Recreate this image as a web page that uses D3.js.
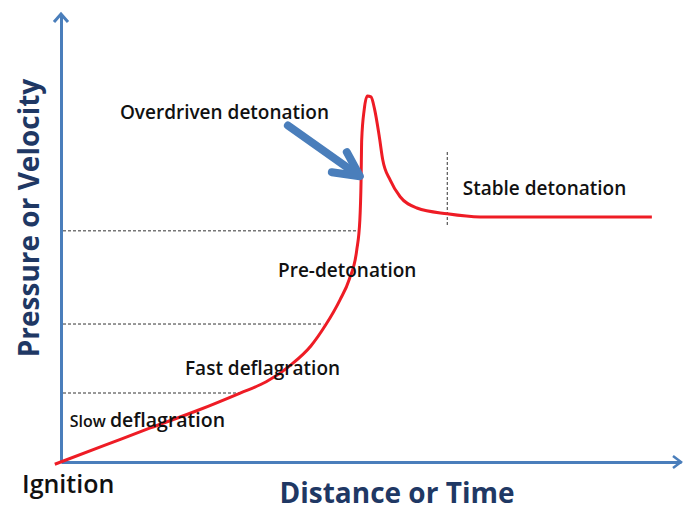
<!DOCTYPE html>
<html>
<head>
<meta charset="utf-8">
<script src="https://cdn.jsdelivr.net/npm/d3@7"></script>
<style>
  body { margin: 0; background: #fff; }
  text { font-family: "Open Sans", "Noto Sans", sans-serif; }
</style>
</head>
<body>
<div id="chart"></div>
<script>
// curve of the wave front, in arbitrary units (0-100 on both axes)
var distance = [-1, 7, 14.4, 22, 28.9, 33.1, 37.1, 40.3, 42.6, 45.0, 46.5, 47.7, 48.2, 48.4, 48.5, 48.9, 49.4, 50.0, 50.6, 51.3, 51.9, 53.1, 54.7, 57.4, 62.3, 67.6, 74.0, 95.3];
var pressure = [-0.5, 3.7, 7.6, 11.5, 15.4, 17.9, 21.7, 25.9, 30.4, 36.2, 40.8, 47.3, 54.0, 62.9, 71.9, 78.6, 81.7, 81.5, 78.6, 73.0, 67.4, 62.9, 59.2, 56.7, 55.4, 54.7, 54.7, 54.7];

// horizontal dashed level lines: level and where they meet the curve
var levelY = [51.6, 30.8, 15.4];
var levelEndX = [48.2, 42.3, 28.9];

// vertical dashed marker for stable detonation
var stableX = 62.3;
var stableY = [52.9, 69.4];

var regimeNames = ["Overdriven detonation", "Stable detonation", "Pre-detonation", "Fast deflagration"];
var regimeX = [9.5, 64.8, 35.0, 20.0];
var regimeY = [76.5, 59.6, 41.2, 19.4];

var width = 683;
var height = 506;
var margin = { top: 14, right: 2, bottom: 44, left: 61 };

var svg = d3.select("#chart")
  .append("svg")
  .attr("width", width)
  .attr("height", height);

var x = d3.scaleLinear()
  .domain([0, 100])
  .range([margin.left, width - margin.right]);

var y = d3.scaleLinear()
  .domain([0, 100])
  .range([height - margin.bottom, margin.top]);

var axisColor = "#4a7ebb";

// axes without ticks, just the lines
svg.append("g")
  .attr("transform", `translate(0, ${y(0)})`)
  .call(d3.axisBottom(x).tickValues([]).tickSizeOuter(0));
svg.append("g")
  .attr("transform", `translate(${x(0)}, 0)`)
  .call(d3.axisLeft(y).tickValues([]).tickSizeOuter(0));
svg.selectAll(".domain")
  .attr("stroke", axisColor)
  .attr("stroke-width", 3);

// arrow heads on the axes
svg.append("path")
  .attr("d", `M${x(0) - 7},${y(100) + 8} L${x(0)},${y(100)} L${x(0) + 7},${y(100) + 8}`)
  .attr("fill", "none")
  .attr("stroke", axisColor)
  .attr("stroke-width", 3);
svg.append("path")
  .attr("d", `M${x(100) - 8},${y(0) - 6} L${x(100)},${y(0)} L${x(100) - 8},${y(0) + 6}`)
  .attr("fill", "none")
  .attr("stroke", axisColor)
  .attr("stroke-width", 2.5);

// dashed level lines
svg.selectAll(".level")
  .data(levelY)
  .enter()
  .append("line")
  .attr("x1", x(0) + 2)
  .attr("x2", (d, i) => x(levelEndX[i]))
  .attr("y1", (d) => y(d))
  .attr("y2", (d) => y(d))
  .attr("stroke", "#333")
  .attr("stroke-width", 1)
  .attr("stroke-dasharray", "3,2");

svg.append("line")
  .attr("x1", x(stableX))
  .attr("x2", x(stableX))
  .attr("y1", y(stableY[0]))
  .attr("y2", y(stableY[1]))
  .attr("stroke", "#333")
  .attr("stroke-width", 1)
  .attr("stroke-dasharray", "3,2");

// the curve
var pts = distance.map((d, i) => [d, pressure[i]]);
var line = d3.line()
  .x((d) => x(d[0]))
  .y((d) => y(d[1]))
  .curve(d3.curveMonotoneX);

svg.append("path")
  .datum(pts)
  .attr("d", line)
  .attr("fill", "none")
  .attr("stroke", "#ee1c25")
  .attr("stroke-width", 3)
  .attr("stroke-linejoin", "round");

// regime labels
svg.selectAll(".regime")
  .data(regimeNames)
  .enter()
  .append("text")
  .attr("x", (d, i) => x(regimeX[i]))
  .attr("y", (d, i) => y(regimeY[i]))
  .attr("font-size", 19)
  .attr("font-weight", 600)
  .attr("fill", "#111")
  .text((d) => d);

var slow = svg.append("text")
  .attr("x", x(1.4))
  .attr("y", y(7.9))
  .attr("fill", "#111")
  .attr("font-weight", 600);
slow.append("tspan").attr("font-size", 16).text("Slow ");
slow.append("tspan").attr("font-size", 19.5).text("deflagration");

// blue pointer arrow to the overdriven peak
var arrowFrom = [36.6, 75.1];
var arrowTo = [48.2, 63.8];
svg.append("line")
  .attr("x1", x(arrowFrom[0]))
  .attr("y1", y(arrowFrom[1]))
  .attr("x2", x(arrowTo[0]) - 3)
  .attr("y2", y(arrowTo[1]) - 2)
  .attr("stroke", axisColor)
  .attr("stroke-width", 8)
  .attr("stroke-linecap", "round");
svg.append("path")
  .attr("d", `M${x(arrowTo[0]) - 13},${y(arrowTo[1]) - 24} L${x(arrowTo[0])},${y(arrowTo[1])} L${x(arrowTo[0]) - 28},${y(arrowTo[1]) - 4}`)
  .attr("fill", "none")
  .attr("stroke", axisColor)
  .attr("stroke-width", 8)
  .attr("stroke-linecap", "round")
  .attr("stroke-linejoin", "round");

// axis titles
svg.append("text")
  .attr("x", 22)
  .attr("y", 493)
  .attr("font-size", 25)
  .attr("font-weight", 600)
  .attr("fill", "#111")
  .text("Ignition");

svg.append("text")
  .attr("x", 397)
  .attr("y", 503)
  .attr("text-anchor", "middle")
  .attr("font-size", 28)
  .attr("font-weight", 700)
  .attr("fill", "#1f3864")
  .text("Distance or Time");

svg.append("text")
  .attr("transform", "translate(39, 218) rotate(-90)")
  .attr("text-anchor", "middle")
  .attr("font-size", 28)
  .attr("font-weight", 700)
  .attr("fill", "#1f3864")
  .text("Pressure or Velocity");
</script>
</body>
</html>
